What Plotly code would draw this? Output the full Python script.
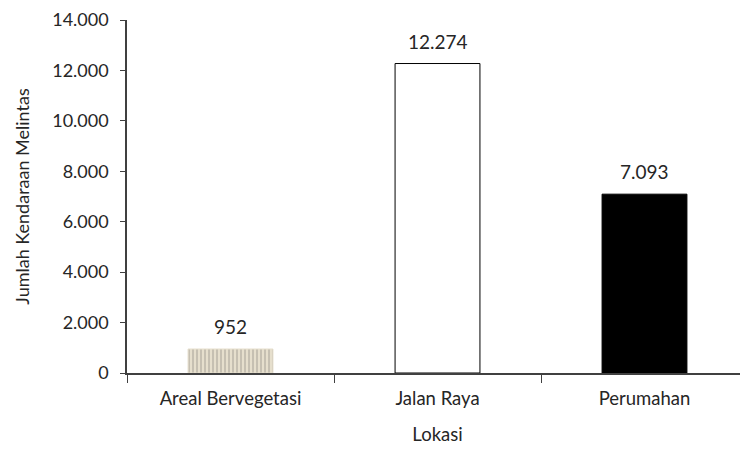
import plotly.graph_objects as go

# data
lokasi = ['Areal Bervegetasi', 'Jalan Raya', 'Perumahan']
jumlah = [952, 12274, 7093]
y_ticks = [0, 2000, 4000, 6000, 8000, 10000, 12000, 14000]

fill_colors = ['#e6dfcd', '#ffffff', '#000000']
line_colors = ['#e6dfcd', '#000000', '#000000']

fig = go.Figure()

fig.add_trace(
    go.Bar(
        x=lokasi,
        y=jumlah,
        width=0.41,
        marker=dict(
            color=fill_colors,
            line=dict(color=line_colors, width=1),
            pattern=dict(shape=['|', '', ''], fgcolor='#dcd3bd', size=4, solidity=0.2),
        ),
        showlegend=False,
    )
)

# label nilai di atas batang
for nama, nilai in zip(lokasi, jumlah):
    fig.add_annotation(
        x=nama, y=nilai,
        text=f'{nilai:,}'.replace(',', '.'),
        showarrow=False,
        yanchor='bottom',
        yshift=9,
        font=dict(family='Lato', size=19, color='#262626'),
    )

# halaman html punya margin body 8px, jadi ukuran dikurangi
fig.update_layout(
    width=740,
    height=441,
    margin=dict(l=119, r=0, t=12, b=76),
    paper_bgcolor='white',
    plot_bgcolor='white',
    separators=',.',
    font=dict(family='Lato', size=18, color='#262626'),
)

fig.update_xaxes(
    title=dict(text='Lokasi', font=dict(size=18.5), standoff=20),
    automargin=False,
    showline=True,
    linecolor='#404040',
    linewidth=1.5,
    ticks='outside',
    tickson='boundaries',
    ticklen=8,
    tickcolor='#404040',
    ticklabelstandoff=8,
    tickfont=dict(size=18.5),
    showgrid=False,
)

fig.update_yaxes(
    title=dict(text='Jumlah Kendaraan Melintas', font=dict(size=18), standoff=18),
    automargin=False,
    range=[0, 14000],
    tickvals=y_ticks,
    tickformat=',',
    ticklabeloverflow='allow',
    showline=True,
    linecolor='#404040',
    linewidth=1.5,
    ticks='outside',
    ticklen=5,
    tickcolor='#404040',
    ticklabelstandoff=8,
    showgrid=False,
    zeroline=False,
)

fig.write_html('out.html')
